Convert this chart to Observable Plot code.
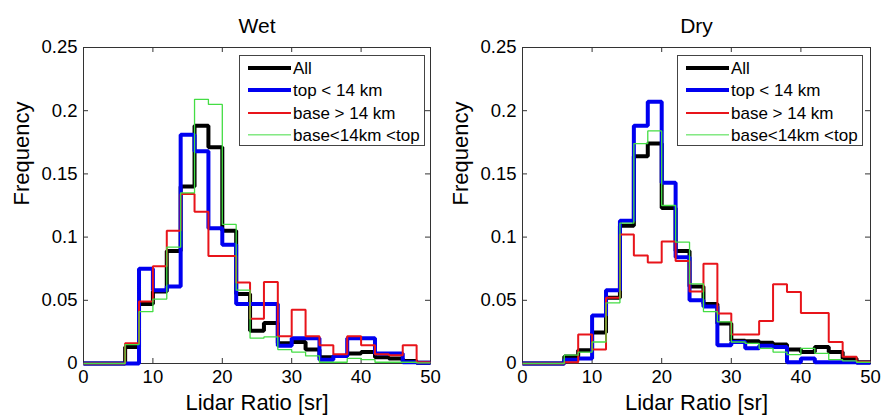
<!DOCTYPE html>
<html><head><meta charset="utf-8">
<script src="https://cdn.jsdelivr.net/npm/d3@7"></script>
<script src="https://cdn.jsdelivr.net/npm/@observablehq/plot@0.6"></script>
<style>
body{margin:0;background:#fff;font-family:"Liberation Sans",Arial,sans-serif;}
#wrap{position:relative;width:882px;height:415px;overflow:hidden;}
.panel{position:absolute;top:0;width:441px;height:415px;}
.legend{position:absolute;background:#fff;border:1px solid #444;box-sizing:border-box;}
.legend .row{position:absolute;left:0;height:22px;width:100%;}
.legend .sw{position:absolute;left:8px;width:43px;top:50%;transform:translateY(-50%);}
.legend .lab{position:absolute;left:53px;top:50%;transform:translateY(-50%);font-size:17px;color:#000;white-space:nowrap;line-height:1;}
</style>
</head><body>
<div id="wrap"></div>
<script>
// Bin left edges (bin width 2 sr)
const bins = [0,2,4,6,8,10,12,14,16,18,20,22,24,26,28,30,32,34,36,38,40,42,44,46,48];
const xTicks = [0,10,20,30,40,50];
const yTicks = [0,0.05,0.1,0.15,0.2,0.25];
const seriesNames = ["All","top < 14 km","base > 14 km","base<14km <top"];
const seriesColors = ["#000000","#0000f0","#e8141a","#44dd44"];
const seriesWidths = [4,4,2,1.3];
const panelTitles = ["Wet","Dry"];

// Wet
const wetAll  = [0,0,0,0.013,0.047,0.057,0.089,0.140,0.188,0.171,0.105,0.055,0.026,0.032,0.016,0.017,0.011,0.005,0.006,0.008,0.009,0.005,0.004,0.002,0.0005];
const wetTop  = [0,0,0,0,0.075,0.058,0.061,0.181,0.168,0.107,0.094,0.047,0.047,0.047,0.014,0.020,0.020,0.003,0.006,0.020,0.020,0.008,0.008,0.001,0.0005];
const wetBase = [0,0,0,0.016,0.049,0.077,0.105,0.134,0.120,0.085,0.085,0.064,0.0355,0.0645,0.0216,0.0426,0.0216,0.0145,0.0074,0.0216,0.0145,0.0074,0.0066,0.0145,0.001];
const wetMix  = [0,0,0,0.015,0.041,0.051,0.092,0.135,0.209,0.205,0.110,0.058,0.020,0.021,0.011,0.009,0.006,0.001,0.001,0.004,0.003,0.001,0.001,0.001,0.0005];
// Dry
const dryAll  = [0,0,0,0.0055,0.0105,0.0245,0.052,0.109,0.164,0.174,0.123,0.089,0.061,0.047,0.0316,0.018,0.0176,0.0165,0.015,0.011,0.009,0.013,0.009,0.004,0.001];
const dryTop  = [0,0,0,0.003,0.004,0.038,0.058,0.113,0.188,0.207,0.143,0.084,0.050,0.045,0.0145,0.017,0.012,0.014,0.013,0.001,0.004,0.001,0.001,0.001,0.0005];
const dryBase = [0,0,0,0.001,0.023,0.011,0.052,0.102,0.0855,0.080,0.0966,0.081,0.057,0.079,0.0395,0.023,0.023,0.0337,0.0626,0.0566,0.040,0.040,0.017,0.0053,0.0013];
const dryMix  = [0,0,0,0.0066,0.009,0.017,0.048,0.111,0.174,0.184,0.125,0.096,0.063,0.041,0.033,0.017,0.016,0.012,0.009,0.007,0.012,0.008,0.003,0.002,0.001];

const panels = [
  {title: panelTitles[0], data: [wetAll, wetTop, wetBase, wetMix], left: 0, ml: 83, mr: 11, legLeft: 239},
  {title: panelTitles[1], data: [dryAll, dryTop, dryBase, dryMix], left: 441, ml: 81, mr: 12, legLeft: 236}
];

function steps(vals) {
  const pts = bins.map((b, i) => ({x: b, y: vals[i]}));
  pts.push({x: bins[bins.length - 1] + 2, y: vals[vals.length - 1]});
  return pts;
}

const W = 441, H = 415, MT = 47, MB = 52;
const font = '"Liberation Sans", Arial, Helvetica, sans-serif';
const wrap = document.getElementById("wrap");

panels.forEach(p => {
  const innerW = W - p.ml - p.mr, innerH = H - MT - MB;
  const marks = [
    Plot.frame({stroke: "#333", strokeWidth: 1}),
    Plot.tickX(xTicks, {x: d => d, stroke: "#333", insetTop: innerH - 5}),
    Plot.tickX(xTicks, {x: d => d, stroke: "#333", insetBottom: innerH - 5}),
    Plot.tickY(yTicks, {y: d => d, stroke: "#333", insetRight: innerW - 5}),
    Plot.tickY(yTicks, {y: d => d, stroke: "#333", insetLeft: innerW - 5}),
    ...p.data.map((vals, i) => Plot.line(steps(vals), {
      x: "x", y: "y", curve: "step-after",
      stroke: seriesColors[i], strokeWidth: seriesWidths[i], strokeLinejoin: "miter", strokeLinecap: "butt"
    })),
    Plot.axisX({ticks: xTicks, tickSize: 0, tickPadding: 6, fontSize: 18.5, tickFormat: d => String(d), label: null}),
    Plot.axisY({ticks: yTicks, tickSize: 0, tickPadding: 6, fontSize: 18.5, tickFormat: d => String(d), label: null}),
    Plot.text([p.title], {frameAnchor: "top", dy: -29, text: d => d, fontSize: 21}),
    Plot.text(["Lidar Ratio [sr]"], {frameAnchor: "bottom", dy: 46, text: d => d, fontSize: 22}),
    Plot.text(["Frequency"], {frameAnchor: "left", dx: -62, rotate: -90, text: d => d, fontSize: 22})
  ];
  const chart = Plot.plot({
    width: W, height: H,
    marginTop: MT, marginBottom: MB, marginLeft: p.ml, marginRight: p.mr,
    x: {domain: [0, 50], label: null},
    y: {domain: [0, 0.25], label: null},
    style: {fontFamily: font, color: "#000", background: "#fff", overflow: "visible"},
    marks
  });
  const div = document.createElement("div");
  div.className = "panel";
  div.style.left = p.left + "px";
  div.appendChild(chart);
  // legend
  const leg = document.createElement("div");
  leg.className = "legend";
  leg.style.left = p.legLeft + "px";
  leg.style.top = "55px";
  leg.style.width = "186px";
  leg.style.height = "91px";
  seriesNames.forEach((name, i) => {
    const row = document.createElement("div");
    row.className = "row";
    row.style.top = (1 + i * 22.4) + "px";
    const sw = document.createElement("div");
    sw.className = "sw";
    sw.style.height = seriesWidths[i] + "px";
    sw.style.background = seriesColors[i];
    const lab = document.createElement("div");
    lab.className = "lab";
    lab.textContent = name;
    row.appendChild(sw); row.appendChild(lab);
    leg.appendChild(row);
  });
  div.appendChild(leg);
  wrap.appendChild(div);
});
</script>
</body></html>
